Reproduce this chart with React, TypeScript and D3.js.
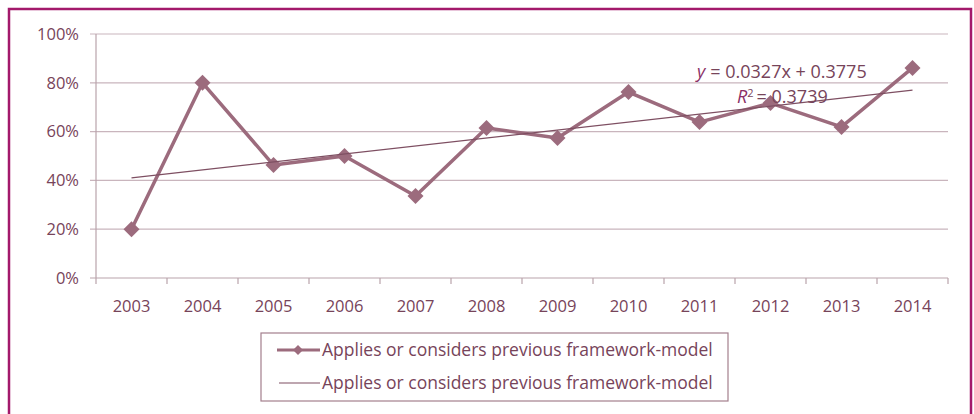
import React from "react";
import * as d3 from "d3";

const years = ["2003","2004","2005","2006","2007","2008","2009","2010","2011","2012","2013","2014"];
const values = [0.20, 0.80, 0.463, 0.50, 0.336, 0.615, 0.574, 0.762, 0.639, 0.717, 0.619, 0.861];
const yTicks = [0, 0.2, 0.4, 0.6, 0.8, 1.0];
const trendSlope = 0.0327;
const trendIntercept = 0.3775;
const seriesName = "Applies or considers previous framework-model";
const eqText = "= 0.0327x + 0.3775";
const r2Text = "= 0.3739";

const W = 974, H = 414;
const left = 96, right = 948, top = 34, bottom = 278;
const lineColor = "#9c6b7d";
const textColor = "#77445a";
const gridColor = "#c9b5bd";
const font = "'Open Sans', sans-serif";

export default function App() {
  const x = d3.scaleBand<string>().domain(years).range([left, right]);
  const y = d3.scaleLinear().domain([0, 1]).range([bottom, top]);
  const cx = (yr: string) => (x(yr) as number) + x.bandwidth() / 2;
  const line = d3.line<number>().x((_, i) => cx(years[i])).y(d => y(d));
  const trend = years.map((_, i) => trendIntercept + trendSlope * (i + 1));
  const diamond = (px: number, py: number, r: number) =>
    `M${px},${py - r}L${px + r},${py}L${px},${py + r}L${px - r},${py}Z`;

  return (
    <svg width={W} height={H} style={{ position: "absolute", left: 0, top: 0, background: "#fff" }}>
      <rect x={9} y={9} width={962} height={420} fill="#fff" stroke="#a3196b" strokeWidth={2.5} />
      {yTicks.map(t => (
        <g key={t}>
          <line x1={90} x2={right} y1={y(t)} y2={y(t)} stroke={t === 0 ? "#b9a3ab" : gridColor} strokeWidth={1.2} />
          <text x={79} y={y(t)} dy="0.35em" textAnchor="end" fontFamily={font} fontSize={16.5} fill={textColor}>
            {`${Math.round(t * 100)}%`}
          </text>
        </g>
      ))}
      <line x1={left} x2={left} y1={top} y2={bottom} stroke="#b9a3ab" strokeWidth={1.2} />
      {years.map((yr, i) => (
        <line key={"t" + yr} x1={(x(yr) as number) + x.bandwidth()} x2={(x(yr) as number) + x.bandwidth()} y1={bottom} y2={bottom + 6} stroke="#b9a3ab" strokeWidth={1.2} />
      ))}
      <line x1={left} x2={left} y1={bottom} y2={bottom + 6} stroke="#b9a3ab" strokeWidth={1.2} />
      {years.map(yr => (
        <text key={yr} x={cx(yr)} y={306} dy="0.35em" textAnchor="middle" fontFamily={font} fontSize={16.5} fill={textColor}>{yr}</text>
      ))}
      <path d={line(values) || ""} fill="none" stroke={lineColor} strokeWidth={3.5} strokeLinejoin="round" />
      {values.map((v, i) => (
        <path key={i} d={diamond(cx(years[i]), y(v), 8)} fill={lineColor} />
      ))}
      <line x1={cx(years[0])} y1={y(trend[0])} x2={cx(years[years.length - 1])} y2={y(trend[trend.length - 1])} stroke="#7e4f62" strokeWidth={1.2} />
      <text x={697} y={72} dy="0.35em" fontFamily={font} fontSize={18} fill={textColor}>
        <tspan fontStyle="italic" fill="#8a2f66">y</tspan>
        <tspan dx={5}>{eqText}</tspan>
      </text>
      <text x={737} y={97} dy="0.35em" fontFamily={font} fontSize={18} fill={textColor}>
        <tspan fontStyle="italic" fill="#8a2f66">R</tspan>
        <tspan dy={-6} fontSize={11}>2</tspan>
        <tspan dy={6} dx={3}>{r2Text}</tspan>
      </text>
      <rect x={261} y={333} width={467} height={68} fill="none" stroke="#a37f8d" strokeWidth={1.2} />
      <line x1={277} x2={320} y1={350} y2={350} stroke={lineColor} strokeWidth={3} />
      <path d={diamond(298, 350, 5)} fill={lineColor} />
      <text x={322} y={350} dy="0.35em" fontFamily={font} fontSize={17.5} fill={textColor}>{seriesName}</text>
      <line x1={279} x2={320} y1={383} y2={383} stroke="#7e4f62" strokeWidth={1.2} />
      <text x={322} y={383} dy="0.35em" fontFamily={font} fontSize={17.5} fill={textColor}>{seriesName}</text>
    </svg>
  );
}
